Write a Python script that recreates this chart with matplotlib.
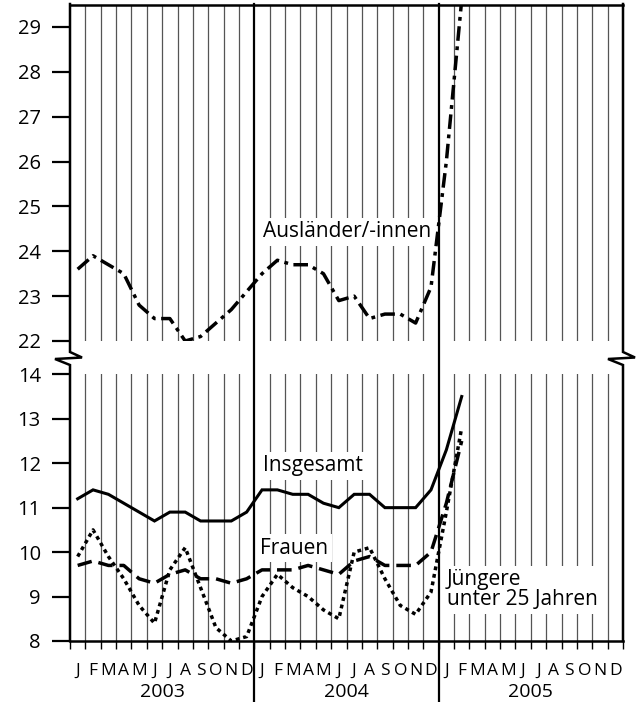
import matplotlib
matplotlib.use("Agg")
import matplotlib.pyplot as plt
from matplotlib.lines import Line2D
import numpy as np

plt.rcParams['font.family'] = ['Open Sans', 'DejaVu Sans']

# ---------------- data ----------------
years = ["2003", "2004", "2005"]
month_letters = ["J", "F", "M", "A", "M", "J", "J", "A", "S", "O", "N", "D"]

insgesamt = [11.2, 11.4, 11.3, 11.1, 10.9, 10.7, 10.9, 10.9, 10.7, 10.7, 10.7, 10.9,
             11.4, 11.4, 11.3, 11.3, 11.1, 11.0, 11.3, 11.3, 11.0, 11.0, 11.0, 11.4,
             12.3, 13.5]
frauen = [9.7, 9.8, 9.7, 9.7, 9.4, 9.3, 9.5, 9.6, 9.4, 9.4, 9.3, 9.4,
          9.6, 9.6, 9.6, 9.7, 9.6, 9.5, 9.8, 9.9, 9.7, 9.7, 9.7, 10.0,
          11.1, 12.5]
juengere = [9.9, 10.5, 9.9, 9.4, 8.8, 8.4, 9.6, 10.1, 9.2, 8.3, 8.0, 8.1,
            9.0, 9.5, 9.2, 9.0, 8.7, 8.5, 10.0, 10.1, 9.4, 8.8, 8.6, 9.1,
            10.9, 12.8]
auslaender = [23.6, 23.9, 23.7, 23.5, 22.8, 22.5, 22.5, 22.0, 22.1, 22.4, 22.7, 23.1,
              23.5, 23.8, 23.7, 23.7, 23.5, 22.9, 23.0, 22.5, 22.6, 22.6, 22.4, 23.2,
              26.0, 29.6]

top_ticks = [22, 23, 24, 25, 26, 27, 28, 29]
bottom_ticks = [8, 9, 10, 11, 12, 13, 14]

# ---------------- layout ----------------
W, H = 640, 702
fig = plt.figure(figsize=(W / 100, H / 100), dpi=100)

def fx(px):
    return px / W

def fy(py):
    return 1 - py / H

L, R = 70, 623
top_y0, top_y1 = 4.5, 341      # pixel rows for 29.5 and 22
bot_y0, bot_y1 = 374.3, 641    # pixel rows for 14 and 8

ax_t = fig.add_axes([fx(L), fy(top_y1), fx(R - L), (top_y1 - top_y0) / H])
ax_b = fig.add_axes([fx(L), fy(bot_y1), fx(R - L), (bot_y1 - bot_y0) / H])

n_months = 36
x = np.arange(len(insgesamt)) + 0.5

grid_col = '#555555'
for ax, (lo, hi) in ((ax_t, (22, 29.5)), (ax_b, (8, 14))):
    ax.set_xlim(0, n_months)
    ax.set_ylim(lo, hi)
    ax.patch.set_alpha(0)
    for k in range(1, n_months):
        if k % 12 != 0:
            ax.axvline(k, color=grid_col, lw=0.9, zorder=1)
    ax.tick_params(axis='y', which='major', direction='out', length=13,
                   width=1.6, labelsize=14.5, pad=8, color='black')
    for s in ('left', 'right', 'bottom', 'top'):
        ax.spines[s].set_visible(False)

ax_t.set_yticks(top_ticks)
ax_b.set_yticks(bottom_ticks)
ax_t.set_xticks([])
ax_t.spines['top'].set_visible(True)
ax_t.spines['top'].set_linewidth(1.8)

# bottom x axis
ax_b.spines['bottom'].set_visible(True)
ax_b.spines['bottom'].set_linewidth(1.8)
ax_b.set_xticks(np.arange(0, n_months + 1))
ax_b.set_xticklabels([])
ax_b.tick_params(axis='x', which='major', direction='out', length=6, width=1.0)
for i in range(n_months):
    ax_b.annotate(month_letters[i % 12], xy=(i + 0.5, 0),
                  xycoords=('data', 'axes fraction'),
                  xytext=(0, -24.5), textcoords='offset points',
                  ha='center', va='baseline', fontsize=12.5)
for j, yr in enumerate(years):
    ax_b.annotate(yr, xy=(12 * j + 6, 0), xycoords=('data', 'axes fraction'),
                  xytext=(0, -40.3), textcoords='offset points',
                  ha='center', va='baseline', fontsize=14)

# ---------------- data lines ----------------
ax_b.plot(x, insgesamt, color='black', lw=2.2, solid_joinstyle='miter', zorder=5)
ax_b.plot(x, frauen, color='black', lw=2.5, linestyle=(0, (4.2, 2.0)),
          dash_capstyle='butt', zorder=5)
ax_b.plot(x, juengere, color='black', lw=2.5, linestyle=(0, (1.1, 1.1)),
          dash_capstyle='butt', zorder=5)
ax_t.plot(x, auslaender, color='black', lw=2.5,
          linestyle=(0, (4.2, 1.6, 1.1, 1.6)), dash_capstyle='butt', zorder=5)

# ---------------- labels ----------------
box = dict(facecolor='white', edgecolor='none', pad=2.5)
ax_t.text(12.56, 24.43, "Ausländer/-innen", ha='left', va='center',
          fontsize=15, bbox=box, zorder=3)
ax_b.text(12.56, 11.94, "Insgesamt", ha='left', va='center',
          fontsize=15, bbox=box, zorder=3)
ax_b.text(12.37, 10.09, "Frauen", ha='left', va='center',
          fontsize=15, bbox=box, zorder=3)
ax_b.text(24.54, 9.15, "Jüngere\nunter 25 Jahren", ha='left', va='center',
          fontsize=15, bbox=box, zorder=3, linespacing=0.95)

# ---------------- frame, break marks, year lines ----------------
def fig_line(xs, ys, lw_=1.8):
    fig.add_artist(Line2D([fx(v) for v in xs], [fy(v) for v in ys],
                          color='black', lw=lw_, solid_joinstyle='miter'))

for xe in (L, R):
    fig_line([xe, xe, xe + 12, xe - 15, xe, xe],
             [top_y0 - 0.5, 352, 357.5, 359, 365, bot_y1])

for k in (12, 24):
    xp = L + (R - L) * k / n_months
    fig_line([xp, xp], [top_y0 - 0.5, 702], lw_=1.6)

fig.savefig("out.png", dpi=100)
